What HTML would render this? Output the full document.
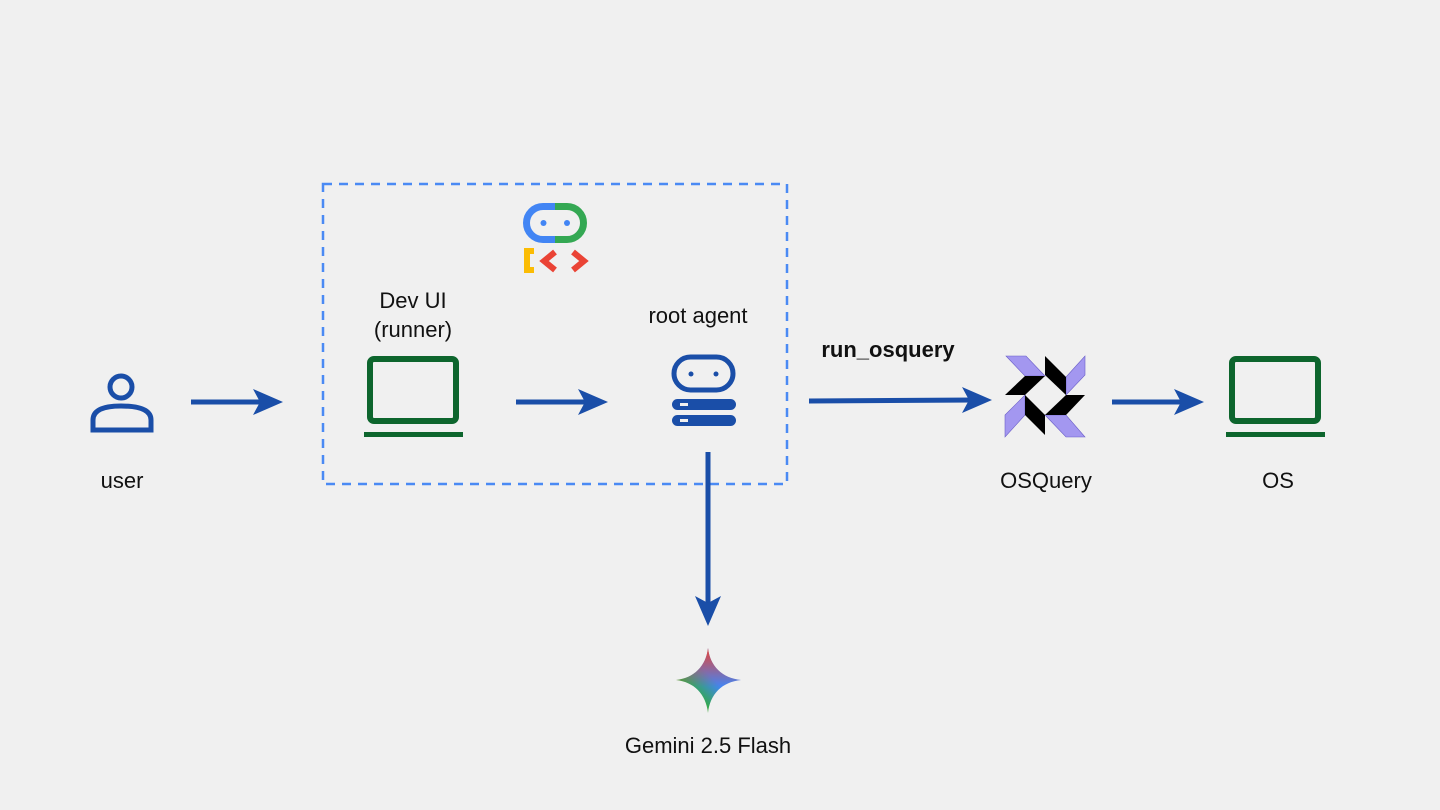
<!DOCTYPE html>
<html><head><style>
body{margin:0;background:#f0f0f0;}
svg{display:block}
text{font-family:"Liberation Sans",sans-serif;font-size:22px;fill:#111}
</style></head><body>
<svg width="1440" height="810" viewBox="0 0 1440 810">
<defs>
<linearGradient id="g" x1="0" y1="1" x2="1" y2="0">
<stop offset="0" stop-color="#f9c21a"/><stop offset="0.3" stop-color="#34a853"/><stop offset="0.55" stop-color="#4285f4"/><stop offset="1" stop-color="#4285f4"/></linearGradient>
<linearGradient id="g2" x1="0.5" y1="0" x2="0.5" y2="0.6"><stop offset="0" stop-color="#ea4335"/><stop offset="1" stop-color="#ea4335" stop-opacity="0"/></linearGradient>
</defs>
<rect x="323" y="184" width="464" height="300" fill="none" stroke="#4a8af4" stroke-width="2.5" stroke-dasharray="9,7"/>
<!-- user icon -->
<circle cx="121" cy="387" r="11" fill="none" stroke="#1a4ea8" stroke-width="5"/>
<path d="M93,430 V420 Q93,406 121,406 Q151,406 151,420 V430 Z" fill="none" stroke="#1a4ea8" stroke-width="5"/>
<text x="122" y="488" text-anchor="middle">user</text>
<!-- arrows -->
<g fill="#1a4ea8" stroke="#1a4ea8">
<line x1="191" y1="402" x2="265" y2="402" stroke-width="5"/><path d="M253,389 L283,402 L253,415 L260,402Z" stroke="none"/>
<line x1="516" y1="402" x2="590" y2="402" stroke-width="5"/><path d="M578,389 L608,402 L578,415 L585,402Z" stroke="none"/>
<line x1="809" y1="401" x2="975" y2="400" stroke-width="5"/><path d="M962,387 L992,400 L962,413 L969,400Z" stroke="none"/>
<line x1="1112" y1="402" x2="1186" y2="402" stroke-width="5"/><path d="M1174,389 L1204,402 L1174,415 L1181,402Z" stroke="none"/>
<line x1="708" y1="452" x2="708" y2="608" stroke-width="5"/><path d="M695,596 L708,626 L721,596 L708,603Z" stroke="none"/>
</g>
<!-- laptops -->
<rect x="370" y="359" width="86" height="62" rx="4" fill="none" stroke="#0d652d" stroke-width="6"/>
<rect x="364" y="432" width="99" height="5" fill="#0d652d"/>
<rect x="1232" y="359" width="86" height="62" rx="4" fill="none" stroke="#0d652d" stroke-width="6"/>
<rect x="1226" y="432" width="99" height="5" fill="#0d652d"/>
<text x="413" y="308" text-anchor="middle">Dev UI</text>
<text x="413" y="337" text-anchor="middle">(runner)</text>
<text x="698" y="323" text-anchor="middle">root agent</text>
<text x="888" y="357" text-anchor="middle" style="font-weight:bold">run_osquery</text>
<text x="1046" y="488" text-anchor="middle">OSQuery</text>
<text x="1278" y="488" text-anchor="middle">OS</text>
<text x="708" y="753" text-anchor="middle">Gemini 2.5 Flash</text>
<!-- ADK logo -->
<path d="M566,206.5 H543 A16.5,16.5 0 0 0 543,239.5 H566" fill="none" stroke="#4285f4" stroke-width="7"/>
<path d="M555,239.5 H567 A16.5,16.5 0 0 0 567,206.5 H555" fill="none" stroke="#34a853" stroke-width="7"/>
<circle cx="543.5" cy="223" r="3" fill="#4285f4"/><circle cx="567" cy="223" r="3" fill="#4285f4"/>
<path d="M534,251 H527 V270 H534" fill="none" stroke="#fbbc04" stroke-width="6"/>
<path d="M555,252 L544,261 L555,270" fill="none" stroke="#ea4335" stroke-width="6"/>
<path d="M573,252 L584,261 L573,270" fill="none" stroke="#ea4335" stroke-width="6"/>
<!-- root agent icon -->
<rect x="674" y="357" width="59" height="33" rx="16.5" fill="none" stroke="#1a4ea8" stroke-width="5"/>
<circle cx="691" cy="374" r="2.5" fill="#1a4ea8"/><circle cx="716" cy="374" r="2.5" fill="#1a4ea8"/>
<rect x="672" y="399" width="64" height="11" rx="5.5" fill="#1a4ea8"/>
<rect x="672" y="415" width="64" height="11" rx="5.5" fill="#1a4ea8"/>
<rect x="680" y="403" width="8" height="3" fill="#f0f0f0"/><rect x="680" y="419" width="8" height="3" fill="#f0f0f0"/>
<!-- osquery -->
<g fill="#a397f0" stroke="#6b5fc8" stroke-width="0.6">
<polygon points="1006,356 1026,356 1045,376 1025,376"/>
<polygon points="1066,377 1085,356 1085,375 1066,395"/>
<polygon points="1045,415 1066,415 1085,437 1066,437"/>
<polygon points="1005,415 1025,395 1025,415 1005,437"/>
</g>
<g fill="#000">
<polygon points="1045,356 1066,377 1066,395 1045,375"/>
<polygon points="1005,395 1025,376 1045,376 1025,395"/>
<polygon points="1045,415 1066,395 1085,395 1066,415"/>
<polygon points="1025,395 1045,415 1045,435 1025,415"/>
</g>
<!-- gemini -->
<path d="M708,648 C710,666 722,678 741,680 C722,682 710,694 708,713 C706,694 694,682 676,680 C694,678 706,666 708,648Z" fill="url(#g)"/>
<path d="M708,648 C710,666 722,678 741,680 C722,682 710,694 708,713 C706,694 694,682 676,680 C694,678 706,666 708,648Z" fill="url(#g2)"/>
</svg>
</body></html>
